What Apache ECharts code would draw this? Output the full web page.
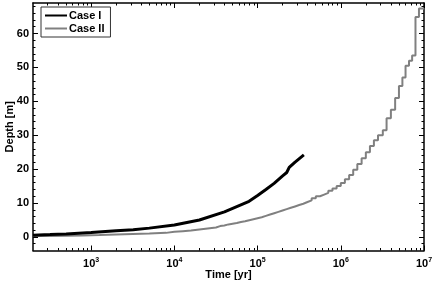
<!DOCTYPE html>
<html>
<head>
<meta charset="utf-8">
<script src="https://cdn.jsdelivr.net/npm/echarts@6/dist/echarts.min.js"></script>
<style>
html,body{margin:0;padding:0;background:#fff;}
#c{width:436px;height:283px;}
</style>
</head>
<body>
<div id="c"></div>
<script>
// ---- data ----
const caseIX = [200, 320, 500, 1000, 2000, 3200, 5000, 10000, 20000, 40000, 79000, 100000, 126000, 158000, 200000, 224000, 240000, 280000, 360000];
const caseIY = [0.5, 0.7, 0.9, 1.3, 1.8, 2.1, 2.6, 3.5, 5.0, 7.4, 10.5, 12.2, 14.0, 15.8, 18.0, 19.0, 20.5, 22.0, 24.2];

const caseIIX = [200, 316, 501, 794, 1259, 1995, 3162, 5012, 7943, 10000, 12589, 15849, 19953, 25119,
  31623, 35481, 39811, 44668, 50119, 56234, 63096, 70795, 79433, 89125,
  100000, 112202, 125893, 141254, 158489, 177828, 199526, 223872, 251189, 281838,
  316228, 354813, 398107, 446684, 501187, 562341, 630957, 707946, 794328, 891251,
  1000000, 1120000, 1260000, 1410000, 1580000, 1780000, 2000000, 2240000, 2500000, 2800000,
  3200000, 3550000, 4000000, 4500000, 5000000, 5500000, 6000000, 6600000, 7200000, 7900000, 8700000, 10000000];
const caseIIY = [0.3, 0.35, 0.45, 0.55, 0.7, 0.85, 1.0, 1.2, 1.5, 1.7, 1.9, 2.2, 2.5, 2.8,
  3.2, 3.4, 3.7, 3.9, 4.1, 4.4, 4.6, 4.9, 5.2, 5.5,
  5.8, 6.2, 6.6, 7.0, 7.4, 7.8, 8.2, 8.6, 9.0, 9.4,
  9.8, 10.3, 10.8, 11.4, 12.0, 12.5, 13.0, 13.6, 14.3, 15.0,
  15.9, 17.0, 18.3, 19.8, 21.5, 23.2, 25.0, 26.8, 28.5, 30.0,
  31.5, 35.0, 37.5, 41.0, 44.5, 47.0, 50.5, 52.0, 53.5, 64.9, 67.4, 67.4];

const seriesNames = ['Case I', 'Case II'];
const xTickLabels = [1e3, 1e4, 1e5, 1e6, 1e7];
const yTickLabels = [0, 10, 20, 30, 40, 50, 60];
const xMin = 200, xMax = 1e7, yMin = -4, yMax = 69;

// minor tick positions (derived)
const xMinor = [];
for (let e = 2; e <= 6; e++) for (let m = 2; m <= 9; m++) { const v = m * Math.pow(10, e); if (v > xMin && v < xMax) xMinor.push(v); }
const yMinor = [];
for (let v = -2; v < yMax; v += 2) if (v % 10 !== 0) yMinor.push(v);

const FF = '"Liberation Sans", Arial, Helvetica, sans-serif';
const lineC = '#000';
const lw = 1.5;

function xAx(pos, labels, ticks, len, showLine) {
  return {
    type: 'log', logBase: 10, min: xMin, max: xMax, position: pos,
    axisLine: { show: showLine, onZero: false, lineStyle: { color: lineC, width: lw } },
    axisTick: { show: true, inside: true, length: len, customValues: ticks, lineStyle: { color: lineC, width: 1 } },
    axisLabel: labels ? {
      show: true, customValues: xTickLabels, margin: 6,
      formatter: function (v) { return '{b|10}{s|' + Math.round(Math.log10(v)) + '}'; },
      rich: {
        b: { fontSize: 11, fontWeight: 'bold', fontFamily: FF, color: '#000' },
        s: { fontSize: 7, fontWeight: 'bold', fontFamily: FF, color: '#000', padding: [0, 0, 8, 0] }
      }
    } : { show: false },
    splitLine: { show: false }
  };
}
function yAx(pos, labels, ticks, len, showLine) {
  return {
    type: 'value', min: yMin, max: yMax, position: pos,
    axisLine: { show: showLine, onZero: false, lineStyle: { color: lineC, width: lw } },
    axisTick: { show: true, inside: true, length: len, customValues: ticks, lineStyle: { color: lineC, width: 1 } },
    axisLabel: labels ? { show: true, customValues: yTickLabels, margin: 4, fontSize: 11, fontWeight: 'bold', fontFamily: FF, color: '#000' } : { show: false },
    splitLine: { show: false }
  };
}

const xAxes = [
  xAx('bottom', true, xTickLabels, 5, true),
  xAx('bottom', false, xMinor, 2.5, false),
  xAx('top', false, xTickLabels, 5, true),
  xAx('top', false, xMinor, 2.5, false)
];
xAxes[0].name = 'Time [yr]';
xAxes[0].nameLocation = 'middle';
xAxes[0].nameGap = 19;
xAxes[0].nameMoveOverlap = false;
xAxes[0].nameTextStyle = { fontSize: 11, fontWeight: 'bold', fontFamily: FF, color: '#000' };

const yAxes = [
  yAx('left', true, yTickLabels, 5, true),
  yAx('left', false, yMinor, 2.5, false),
  yAx('right', false, yTickLabels, 5, true),
  yAx('right', false, yMinor, 2.5, false)
];
yAxes[0].name = 'Depth [m]';
yAxes[0].nameLocation = 'middle';
yAxes[0].nameGap = 18;
yAxes[0].nameMoveOverlap = false;
yAxes[0].nameTextStyle = { fontSize: 11, fontWeight: 'bold', fontFamily: FF, color: '#000' };

const chart = echarts.init(document.getElementById('c'), null, { renderer: 'canvas' });
chart.setOption({
  animation: false,
  backgroundColor: '#fff',
  grid: { left: 33, right: 12, top: 3, bottom: 32.5, containLabel: false, outerBoundsMode: 'none' },
  legend: {
    orient: 'vertical', left: 41, top: 7,
    padding: [3, 6, 3, 4], itemGap: 2, itemWidth: 22, itemHeight: 2,
    borderColor: '#333', borderWidth: 1, backgroundColor: '#fff',
    textStyle: { fontSize: 11, fontWeight: 'bold', fontFamily: FF, color: '#000', padding: [0, 0, 0, -3] },
    data: [{ name: seriesNames[0], icon: 'rect' }, { name: seriesNames[1], icon: 'rect' }]
  },
  xAxis: xAxes,
  yAxis: yAxes,
  series: [
    {
      name: seriesNames[0], type: 'line', xAxisIndex: 0, yAxisIndex: 0,
      data: caseIX.map((x, i) => [x, caseIY[i]]),
      showSymbol: false, symbol: 'none', smooth: false,
      lineStyle: { color: '#000', width: 3 }, itemStyle: { color: '#000' }, z: 3
    },
    {
      name: seriesNames[1], type: 'line', xAxisIndex: 0, yAxisIndex: 0,
      data: caseIIX.map((x, i) => [x, caseIIY[i]]),
      step: 'end', showSymbol: false, symbol: 'none',
      lineStyle: { color: '#808080', width: 2 }, itemStyle: { color: '#808080' }, z: 2
    }
  ]
});
</script>
</body>
</html>
